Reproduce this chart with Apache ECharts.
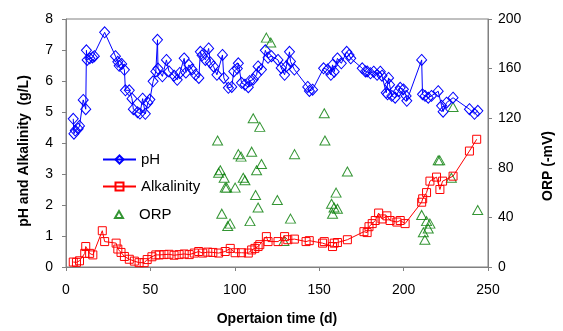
<!DOCTYPE html>
<html>
<head>
<meta charset="utf-8">
<script src="https://cdn.jsdelivr.net/npm/echarts@6/dist/echarts.min.js"></script>
<style>html,body{margin:0;padding:0;background:#fff;}#c{width:563px;height:331px;}</style>
</head>
<body>
<div id="c"></div>
<script>
var xTicks = [0, 50, 100, 150, 200, 250];
var leftTicks = [0, 1, 2, 3, 4, 5, 6, 7, 8];
var rightTicks = [0, 40, 80, 120, 160, 200];

var phData = [[4.3,4.78],[4.7,4.3],[5.5,4.4],[7.2,4.46],[8.0,4.55],[10.2,5.39],[11.7,5.09],[12.1,6.99],[12.5,6.68],[14.1,6.73],[15.7,6.76],[16.8,6.8],[22.9,7.57],[29.3,6.8],[30.7,6.62],[31.5,6.49],[33,6.55],[34.6,6.36],[35.2,5.7],[37.5,5.7],[39.1,5.43],[39.9,5.09],[42.4,4.99],[43.8,4.95],[45.4,5.43],[47,4.94],[48.5,5.3],[49.7,5.4],[51.6,5.99],[53.2,6.31],[54.2,7.33],[54.5,6.4],[57.1,6.15],[59.5,6.68],[61,6.31],[64,6.17],[65.9,6.04],[67.4,6.26],[70,6.73],[71,6.27],[72.8,6.52],[74.7,6.37],[76.7,6.2],[78.7,6.1],[79.6,6.94],[80.6,6.83],[82.6,6.68],[84.5,7.05],[85.5,6.6],[87.4,6.47],[89.4,6.2],[92.7,6.84],[93.5,6.1],[96.2,5.78],[98.2,5.81],[99.4,6.31],[101.5,6.4],[102.1,6.57],[104,5.94],[106,5.88],[108,5.8],[108.9,6.0],[110.9,6.05],[112.9,6.2],[113.8,6.47],[115.8,6.37],[118.1,6.99],[119.7,6.75],[121.7,6.8],[125.6,6.68],[127.5,6.42],[129.5,6.2],[130.5,6.47],[132.4,6.94],[133,6.63],[135.3,6.37],[143.2,5.81],[144.2,5.68],[146.1,5.72],[152.6,6.41],[155,6.37],[156.9,6.2],[157.9,6.52],[158.9,6.3],[160.8,6.73],[163.1,6.57],[166.3,6.94],[167.7,6.84],[168.7,6.73],[175.5,6.41],[177.4,6.31],[178.4,6.31],[180.4,6.25],[182.3,6.3],[184.3,6.2],[186.2,6.3],[187.2,6.17],[189.7,5.62],[190.5,5.57],[191.1,6.1],[191.7,5.88],[193,5.52],[195,5.46],[197,5.67],[198,5.78],[199.9,5.73],[201.5,5.52],[201.9,5.36],[210.7,6.68],[211.2,5.57],[212.7,5.52],[214.6,5.46],[216.5,5.52],[220.5,5.67],[222.5,5.2],[223.4,5.01],[225.4,5.3],[229.3,5.46],[239,5.09],[242,4.94],[244,5.04]];

var alkData = [[4.3,0.16],[6.2,0.15],[8,0.2],[11.1,0.44],[11.7,0.66],[14,0.44],[15.9,0.39],[21.5,1.17],[22.9,0.82],[29.7,0.77],[30.7,0.58],[32.6,0.47],[34.6,0.34],[37.5,0.25],[40.5,0.19],[43.3,0.14],[46.3,0.14],[48.1,0.24],[50.9,0.33],[53.2,0.39],[55.2,0.39],[58,0.4],[61,0.41],[64,0.38],[67,0.4],[70,0.42],[73,0.4],[76,0.45],[78.6,0.5],[81,0.45],[84,0.48],[87,0.47],[90.4,0.45],[94.3,0.5],[97.3,0.6],[100.2,0.46],[104,0.46],[108,0.45],[110,0.55],[111.9,0.6],[113.8,0.66],[114.8,0.72],[118.7,0.98],[119.7,0.82],[125.6,0.82],[129.5,0.98],[131.4,0.88],[135.3,0.9],[142.2,0.82],[144.1,0.85],[152,0.77],[153,0.82],[157.9,0.66],[158.9,0.77],[160.8,0.79],[166.7,0.88],[176.5,1.14],[178.4,1.11],[179.5,1.3],[181.4,1.4],[183.2,1.5],[185.2,1.74],[187.2,1.55],[190.1,1.65],[192,1.5],[196,1.45],[198,1.5],[200.9,1.4],[210.7,2.09],[211.3,2.2],[213.6,2.4],[215.6,2.77],[219.5,2.9],[221.5,2.5],[223.1,2.77],[229.3,2.93],[239,3.74],[243.3,4.12]];

var orpData = [[89.8,102],[90.4,76],[91.4,78],[92.3,43],[93.7,72],[94.3,64],[95.2,64],[95.8,33],[97.2,35],[100.2,64],[102.1,91],[103.7,89],[105,72],[106,70],[109,37],[110,93],[110.9,120],[112.3,58],[112.9,78],[113.8,48],[114.8,113],[115.8,83],[118.7,185],[121.3,181],[125.2,54],[129.1,21],[133,39],[135.4,91],[153,124],[153.4,102],[157.3,51],[157.9,43],[158.8,48],[160,60],[160.8,47],[166.7,77],[210.7,42],[211.7,28],[212.6,22],[213.6,37],[214.6,31],[215.6,35],[220.5,86],[221.4,86],[228.3,72],[229.3,129],[243.9,46]];

var FONT = 'Liberation Sans, Arial, sans-serif';
var AX = '#808080';
var chart = echarts.init(document.getElementById('c'));
chart.setOption({
  animation: false,
  backgroundColor: '#fff',
  textStyle: {fontFamily: FONT},
  grid: {left: 66, right: 71, top: 19, bottom: 60, show: true, borderColor: AX, borderWidth: 1, backgroundColor: 'transparent'},
  legend: [{
    orient: 'vertical', left: 97, top: 147, itemWidth: 33, itemHeight: 10, itemGap: 12,
    textStyle: {fontFamily: FONT, fontSize: 15, color: '#000'},
    data: ['pH', 'Alkalinity']
  }, {
    orient: 'vertical', left: 109, top: 202, itemWidth: 8, itemHeight: 7,
    textStyle: {fontFamily: FONT, fontSize: 15, color: '#000', padding: [0, 0, 0, 11]},
    data: ['ORP']
  }],
  xAxis: {
    type: 'value', min: xTicks[0], max: xTicks[xTicks.length - 1], interval: 50,
    name: 'Opertaion time (d)', nameLocation: 'middle', nameGap: 45,
    nameTextStyle: {fontFamily: FONT, fontSize: 14, fontWeight: 'bold', color: '#000'},
    axisLine: {lineStyle: {color: AX}}, axisTick: {show: true, length: 4, lineStyle: {color: AX}},
    axisLabel: {fontFamily: FONT, fontSize: 14, color: '#000', margin: 16},
    splitLine: {show: false}
  },
  yAxis: [{
    type: 'value', min: leftTicks[0], max: leftTicks[leftTicks.length - 1], interval: 1,
    name: 'pH and Alkalinity  (g/L)', nameLocation: 'middle', nameGap: 35,
    nameTextStyle: {fontFamily: FONT, fontSize: 14, fontWeight: 'bold', color: '#000', padding: [0, 16, 0, 0]},
    axisLine: {show: true, lineStyle: {color: AX}}, axisTick: {show: true, length: 4, lineStyle: {color: AX}},
    axisLabel: {fontFamily: FONT, fontSize: 14, color: '#000', margin: 13},
    splitLine: {show: false}
  }, {
    type: 'value', position: 'right', min: rightTicks[0], max: rightTicks[rightTicks.length - 1], interval: 40,
    name: 'ORP (-mV)', nameLocation: 'middle', nameGap: 53,
    nameTextStyle: {fontFamily: FONT, fontSize: 14, fontWeight: 'bold', color: '#000', padding: [0, 46, 0, 0]},
    axisLine: {show: true, lineStyle: {color: AX}}, axisTick: {show: true, length: 4, lineStyle: {color: AX}},
    axisLabel: {fontFamily: FONT, fontSize: 14, color: '#000', margin: 10},
    splitLine: {show: false}
  }],
  series: [{
    name: 'pH', type: 'line', yAxisIndex: 0, data: phData,
    symbol: 'diamond', symbolSize: [10, 11],
    lineStyle: {color: '#0000ff', width: 1},
    itemStyle: {color: 'rgba(255,255,255,0)', borderColor: '#0000ff', borderWidth: 1}
  }, {
    name: 'Alkalinity', type: 'line', yAxisIndex: 0, data: alkData,
    symbol: 'rect', symbolSize: 8,
    lineStyle: {color: '#ff0000', width: 1},
    itemStyle: {color: 'rgba(255,255,255,0)', borderColor: '#ff0000', borderWidth: 1}
  }, {
    name: 'ORP', type: 'scatter', yAxisIndex: 1, data: orpData,
    symbol: 'triangle', symbolSize: [10, 9],
    itemStyle: {color: 'rgba(255,255,255,0)', borderColor: '#007a00', borderWidth: 1}
  }]
});
</script>
</body>
</html>
